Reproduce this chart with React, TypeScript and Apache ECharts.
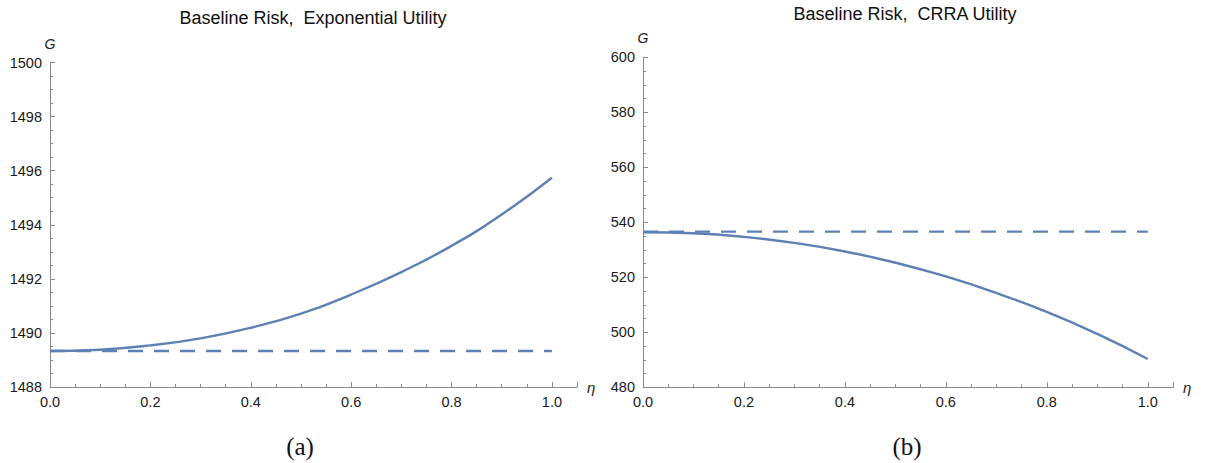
import React, { useEffect, useRef } from "react";
import * as echarts from "echarts";

const etas = [0, 0.1, 0.2, 0.3, 0.4, 0.5, 0.6, 0.7, 0.8, 0.9, 1.0];
const expUtility = [1489.33, 1489.38, 1489.54, 1489.8, 1490.19, 1490.71, 1491.42, 1492.25, 1493.22, 1494.38, 1495.74];
const expBaseline = 1489.33;
const crraUtility = [536.4, 536.0, 534.7, 532.5, 529.4, 525.3, 520.3, 514.3, 507.4, 499.4, 490.3];
const crraBaseline = 536.6;
const titles = ["Baseline Risk,  Exponential Utility", "Baseline Risk,  CRRA Utility"];
const captions = ["(a)", "(b)"];

const LINE = "#5E81B5";
const AXIS = "#8a8a8a";
const SANS = "Liberation Sans";
const SERIF = "Liberation Serif";

function xAxisOf(gridIndex: number) {
  return {
    type: "value",
    gridIndex,
    min: 0,
    max: 1.05,
    interval: 0.2,
    name: "η",
    nameLocation: "end",
    nameGap: 10,
    nameTextStyle: { fontFamily: SANS, fontStyle: "italic", fontSize: 15, color: "#222" },
    axisLine: { show: true, lineStyle: { color: AXIS, width: 1 } },
    axisTick: { show: true, inside: true, length: 5, lineStyle: { color: AXIS } },
    minorTick: { show: true, splitNumber: 4, length: 3, lineStyle: { color: AXIS } },
    splitLine: { show: false },
    axisLabel: {
      showMaxLabel: false,
      margin: 7,
      fontFamily: SANS,
      fontSize: 14.5,
      color: "#1a1a1a",
      formatter: (v: number) => v.toFixed(1),
    },
  };
}

function yAxisOf(gridIndex: number, min: number, max: number, interval: number) {
  return {
    type: "value",
    gridIndex,
    min,
    max,
    interval,
    name: "G",
    nameLocation: "end",
    nameGap: 12,
    nameTextStyle: { fontFamily: SANS, fontStyle: "italic", fontSize: 14, color: "#222" },
    axisLine: { show: true, lineStyle: { color: AXIS, width: 1 } },
    axisTick: { show: true, inside: true, length: 5, lineStyle: { color: AXIS } },
    minorTick: { show: true, splitNumber: 4, length: 3, lineStyle: { color: AXIS } },
    splitLine: { show: false },
    axisLabel: { margin: 8, fontFamily: SANS, fontSize: 14.5, color: "#1a1a1a", formatter: (v: number) => String(v) },
  };
}

export default function App() {
  const ref = useRef<HTMLDivElement>(null);
  useEffect(() => {
    if (!ref.current) return;
    const chart = echarts.init(ref.current, null, { renderer: "svg" });
    const curveA = etas.map((x, i) => [x, expUtility[i]]);
    const curveB = etas.map((x, i) => [x, crraUtility[i]]);
    const flatA = [etas[0], etas[etas.length - 1]].map((x) => [x, expBaseline]);
    const flatB = [etas[0], etas[etas.length - 1]].map((x) => [x, crraBaseline]);
    chart.setOption({
      animation: false,
      grid: [
        { left: 50, top: 62.5, width: 527, height: 324.5 },
        { left: 643, top: 57.3, width: 530, height: 330 },
      ],
      xAxis: [xAxisOf(0), xAxisOf(1)],
      yAxis: [yAxisOf(0, 1488, 1500, 2), yAxisOf(1, 480, 600, 20)],
      series: [
        { type: "line", xAxisIndex: 0, yAxisIndex: 0, data: flatA, showSymbol: false, lineStyle: { color: LINE, width: 2.4, type: [15, 11] } },
        { type: "line", xAxisIndex: 0, yAxisIndex: 0, data: curveA, smooth: true, showSymbol: false, lineStyle: { color: LINE, width: 2.4 } },
        { type: "line", xAxisIndex: 1, yAxisIndex: 1, data: flatB, showSymbol: false, lineStyle: { color: LINE, width: 2.4, type: [15, 11] } },
        { type: "line", xAxisIndex: 1, yAxisIndex: 1, data: curveB, smooth: true, showSymbol: false, lineStyle: { color: LINE, width: 2.4 } },
      ],
      graphic: [
        { type: "text", x: 313, y: 18, style: { text: titles[0], fontFamily: SANS, fontSize: 18, fill: "#111", textAlign: "center", textVerticalAlign: "middle" } },
        { type: "text", x: 905, y: 14, style: { text: titles[1], fontFamily: SANS, fontSize: 18, fill: "#111", textAlign: "center", textVerticalAlign: "middle" } },
        { type: "text", x: 300, y: 446, style: { text: captions[0], fontFamily: SERIF, fontSize: 25, fill: "#111", textAlign: "center", textVerticalAlign: "middle" } },
        { type: "text", x: 907, y: 446, style: { text: captions[1], fontFamily: SERIF, fontSize: 25, fill: "#111", textAlign: "center", textVerticalAlign: "middle" } },
      ],
    });
    return () => chart.dispose();
  }, []);
  return <div ref={ref} style={{ position: "fixed", left: 0, top: 0, width: 1205, height: 463, background: "#fff" }} />;
}
